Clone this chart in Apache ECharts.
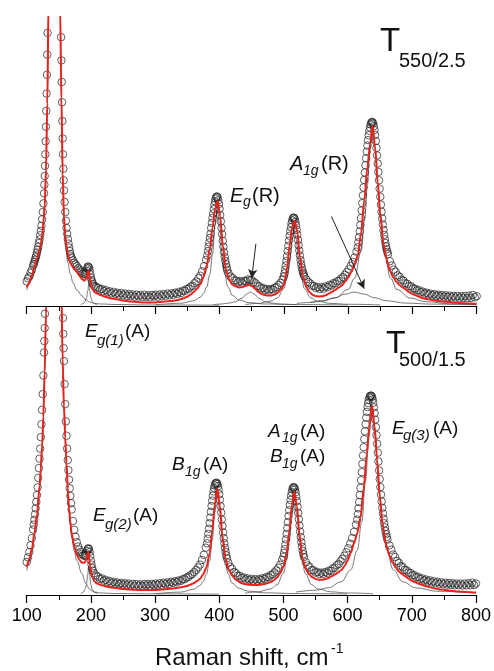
<!DOCTYPE html>
<html>
<head>
<meta charset="utf-8">
<script src="https://cdn.jsdelivr.net/npm/echarts@6/dist/echarts.min.js"></script>
<style>
html,body{margin:0;padding:0;background:#fff;}
#chart{width:494px;height:671px;}
</style>
</head>
<body>
<div id="chart"></div>
<script>
// ---------- fitted curves (grid of Raman shifts, cm-1) ----------
const shift = [100,104,108,112,116,120,122,124,126,128,130,132,134,136,138,140,142,144,146,148,150,152,154,156,158,160,162,164,166,168,170,
174,178,182,186,190,
193,196,199,202,206,210,
215,220,225,230,235,240,245,250,255,260,265,270,275,280,285,290,295,300,305,310,315,320,325,330,335,340,345,350,355,360,365,370,375,380,385,
389,393,397,401,405,
410,415,420,425,430,435,440,445,450,455,460,465,470,475,480,485,490,495,500,505,
509,513,517,521,
525,530,535,540,545,550,555,560,565,570,575,580,585,590,595,600,605,610,615,620,625,630,
634,638,642,646,
650,655,660,665,670,675,680,685,690,695,700,705,710,715,720,725,730,735,740,745,750,755,760,765,770,775,780,785,790,795,800];

// T550/2.5 fitted sum (red)
const fitTop = [6.4,8,10.5,13.5,16.5,19.5,21.5,24.5,29,35,47,70,105,140,170,195,205,205,195,170,140,103,72,46,31,24.5,20.5,18,16,14.8,14,
12.8,11.8,10.5,9.3,8.8,
9.6,12.2,9,5.8,4.8,4.3,
3.8,3.4,3.0,2.7,2.5,2.3,2.1,1.9,1.75,1.6,1.5,1.4,1.3,1.25,1.2,1.15,1.2,1.25,1.35,1.45,1.55,1.65,1.75,1.9,2.1,2.4,2.8,3.3,4.0,4.9,6.0,7.5,10,14,20,
27,33.5,36.3,31,21,
12.5,9,7.4,6.8,6.4,6.5,6.9,7.3,7.0,6.0,4.9,4.2,3.8,3.6,3.6,3.9,4.5,5.6,7.2,13,
21,27.5,29.5,25.5,
17,10,6.5,4.8,3.8,3.4,3.3,3.4,3.7,4.3,4.9,5.6,6.3,7.1,8.3,9.8,11.8,14.5,17.5,25,36.5,48,
56,62.5,55,43,
32,21.5,16,12.2,10,8.4,7.3,6.4,5.6,4.8,4.2,3.7,3.2,2.8,2.5,2.3,2.1,1.9,1.75,1.6,1.5,1.4,1.3,1.2,1.1,1.0,0.95,0.9,0.85,0.8,0.75];

// T500/1.5 fitted sum (red)
const fitBot = [9.7,12.5,16,21.5,28,38,44,52,62,78,98,120,150,180,200,220,230,230,220,200,170,140,105,82,66,55,46,37,30,25.5,21.5,
17,14,12.3,11.3,11.2,
12.4,15,10,6.2,4.6,4,
3.5,3.2,2.9,2.7,2.5,2.4,2.2,2.1,2.0,1.9,1.85,1.8,1.75,1.7,1.7,1.7,1.7,1.75,1.8,1.9,2.0,2.1,2.2,2.35,2.5,2.7,2.9,3.2,3.6,4.1,4.8,5.6,7.2,9.6,14.5,
22,31.5,37,31,20.5,
12.5,8.8,6.8,5.5,4.7,4.1,3.8,3.6,3.5,3.5,3.5,3.6,3.8,4.1,4.5,5.1,6.1,7.6,9.9,14.5,
22,31,36,31,
21,12.5,9,7.2,6.2,5.6,5.3,5.3,5.5,5.9,6.5,7.1,7.8,8.7,10,12,14.8,18,21.5,27,37,49,
59,66,59,47,
34.5,23.5,17.5,13.8,11.3,9.6,8.2,7.3,6.5,5.7,5.0,4.5,4.0,3.6,3.2,2.9,2.6,2.35,2.1,1.95,1.8,1.65,1.5,1.4,1.25,1.2,1.1,1.05,0.95,0.9,0.85];

// ---------- measured spectra (open circles) ----------
const obsShift = [100,102,104,106,108,110,
111,112,113,114,115,116,117,118,119,120,121,122,123,124,125,126,127,
127.5,128,128.5,129,129.5,130,130.5,131,131.5,132,132.5,133,133.5,134,134.5,135,
137,140,143,146,149,
150,150.5,151,151.5,152,152.5,153,153.5,154,154.5,155,155.5,156,156.5,157,157.5,158,
159,160,161,162,163,164,165,166,167,168,169,170,
172,174,176,178,180,182,184,186,188,190,
191,192,193,194,195,196,197,198,199,200,201,202,203,
205,208,211,214,217,220,223,226,229,232,235,238,241,244,247,250,253,256,259,262,265,268,271,274,277,280,283,286,289,292,295,298,301,304,307,310,313,316,319,322,325,328,331,334,337,340,343,346,349,352,355,358,361,364,367,370,373,376,379,
381,382,383,384,385,386,387,388,389,390,391,392,393,394,395,396,397,398,399,400,401,402,403,404,405,406,407,408,409,410,411,412,
414,417,420,423,426,429,432,435,438,441,444,447,450,453,456,459,462,465,468,471,474,477,480,483,486,489,492,495,498,
500,501,502,503,504,505,506,507,508,509,510,511,512,513,514,515,516,517,518,519,520,521,522,523,524,525,526,527,528,529,530,531,532,
535,538,541,544,547,550,553,556,559,562,565,568,571,574,577,580,583,586,589,592,595,598,601,604,607,610,613,
615,616,617,618,619,620,621,622,623,624,625,626,627,628,629,630,631,632,633,634,635,636,637,638,639,640,641,642,643,644,645,646,647,648,649,650,651,652,653,654,655,656,657,658,659,660,661,662,
665,668,671,674,677,680,683,686,689,692,695,698,701,704,707,710,713,716,719,722,725,728,731,734,737,740,743,746,749,752,755,758,761,764,767,770,773,776,779,782,785,788,791,794,797,800];

const obsTop = [8.5,9.6,10.2,11.5,12.5,14,
14.5,15.3,16,16.8,17.5,18.5,19.5,20.5,21.8,23,24.5,26,27.8,30,32.5,35.5,39,
42,45,48.5,52.5,57,62,67.5,73.5,80,87,94.5,102,110,118,127,136,
175,205,212,205,170,
155,146,137,128,119,110,101,93,85,77.5,70.5,64,58,52.5,47.5,43.5,40,
36,32.5,29.5,27,25,23.2,21.6,20.2,19,18,17.2,16.5,
15.8,15,14.4,13.8,13.1,12.6,12,11.6,11.2,11,
11.2,11.6,12.2,13,13.6,13.6,13.2,12.3,11,9.8,8.9,8.2,7.6,
7.0,6.6,6.3,5.7,5.9,5.2,5.5,4.8,5.1,4.4,4.9,4.2,4.6,3.9,4.5,3.7,4.3,3.5,4.2,3.4,4.0,3.2,3.9,3.3,3.8,3.1,3.9,3.2,3.7,3.0,3.8,3.3,3.9,3.2,4.0,3.4,4.1,3.5,4.3,3.7,4.4,3.9,4.6,4.2,4.9,4.5,5.3,5.2,5.9,6.0,6.7,7.0,7.9,8.5,9.6,10.5,12,13.8,16,
17.5,19,20.5,22,23.5,25,27,28.8,30.5,32,33.5,35,36.2,37.2,37.8,37.9,37.5,36.6,35.3,33.6,31.5,29.3,27,24.8,22.5,20.5,18.6,17,15.6,14.4,13.4,12.5,
11.3,10.2,9.7,8.9,8.8,8.2,8.6,8.1,8.7,8.6,9.2,8.9,9.0,8.3,7.9,7.0,6.8,6.1,6.2,5.6,5.9,5.4,5.9,5.7,6.3,6.6,7.3,8.0,9.2,
10.2,11.3,12.6,14,15.6,17.2,19,20.8,22.6,24.3,25.9,27.3,28.6,29.6,30.3,30.6,30.5,30,29.1,27.9,26.4,24.7,22.9,21,19.2,17.5,15.9,14.5,13.3,12.3,11.5,10.8,10.2,
9.2,8.3,7.8,7.0,6.9,6.2,6.6,5.9,6.5,6.0,6.8,6.5,7.3,7.1,7.9,7.8,8.6,8.7,9.5,10.0,10.8,11.7,12.7,13.9,15.2,16.8,18.8,
20.3,22,23.8,25.8,28,30.4,33,35.6,38.3,41,43.6,46.2,48.7,51.1,53.4,55.5,57.4,59.1,60.6,61.8,62.8,63.4,63.7,63.6,63.1,62.2,60.9,59.2,57.1,54.7,52.1,49.3,46.4,43.5,40.6,37.8,35.1,32.6,30.3,28.2,26.3,24.6,23.1,21.8,20.6,19.6,18.7,17.9,
15.5,14,12.6,11.8,10.6,10.1,9.1,8.8,7.9,7.7,6.9,6.8,6.1,6.0,5.4,5.5,4.8,5.0,4.3,4.6,4.0,4.3,3.7,4.1,3.5,3.9,3.3,3.8,3.2,3.7,3.1,3.6,3.0,3.5,2.9,3.5,2.8,3.4,2.8,3.5,2.7,3.6,2.8,3.8,3.0,3.4];

const obsBot = [11.5,13.1,15,17.3,19.8,22.8,
24.5,26.2,28.1,30.2,32.4,34.8,37.5,40.8,44.2,47.5,51,55,59.5,64.5,70,76.5,84.5,
88.5,93,98,103,109,115,121.5,128,135,142,150,158,166,174,182,190,
215,235,245,235,200,
190,182,174,166,158,150,142,135,128,121,114.5,108,102,96.5,91,86,81.5,
73.5,66.5,60.5,55.5,51,47,43.5,40.2,37.2,34.5,32,29.8,
25.8,22.7,20.3,18.4,16.9,15.8,15,14.3,13.9,13.7,
13.6,13.9,14.5,15.3,16,16.3,16,15,13.6,12,10.6,9.4,8.5,
7.6,6.8,6.4,5.6,5.8,5.0,5.3,4.6,4.9,4.2,4.6,4.0,4.4,3.8,4.2,3.6,4.1,3.4,4.0,3.3,3.9,3.2,3.8,3.2,3.7,3.1,3.8,3.3,3.8,3.2,3.9,3.4,4.0,3.5,4.1,3.6,4.3,3.8,4.4,3.9,4.6,4.2,4.8,4.5,5.1,4.9,5.5,5.5,6.1,6.3,6.9,7.3,8.0,8.7,9.6,10.6,12.2,14,16.5,
18,19.6,21.3,23.1,25,27,29,31,32.9,34.6,36.1,37.3,38.2,38.8,39.1,39.1,38.7,37.9,36.7,35.1,33.2,31,28.7,26.3,24,21.8,19.8,18,16.4,15,13.8,12.8,
11.3,9.9,9.1,8.0,7.6,6.7,6.7,5.9,6.1,5.4,5.8,5.2,5.6,5.0,5.5,5.0,5.6,5.2,5.9,5.6,6.3,6.2,6.9,7.2,7.9,8.6,9.5,10.6,12.2,
13.3,14.6,16,17.6,19.4,21.3,23.3,25.4,27.5,29.5,31.4,33.1,34.6,35.8,36.8,37.4,37.6,37.4,36.8,35.8,34.4,32.7,30.7,28.6,26.4,24.2,22.1,20.2,18.4,16.8,15.4,14.2,13.2,
11.4,10.3,9.7,8.7,8.6,7.8,8.0,7.3,7.8,7.3,8.0,7.7,8.5,8.4,9.3,9.5,10.4,10.8,11.8,12.6,13.7,14.9,16.3,17.9,19.8,22,24.5,
26.3,28.2,30.2,32.4,34.8,37.3,40,42.8,45.7,48.6,51.5,54.3,57,59.5,61.8,63.8,65.5,66.9,68,68.8,69.3,69.5,69.4,69,68.2,67,65.4,63.4,61.1,58.5,55.7,52.7,49.6,46.5,43.4,40.4,37.6,35,32.6,30.4,28.4,26.6,25,23.6,22.3,21.2,20.2,19.3,
17.3,15.8,14.1,13.2,11.8,11.2,10.1,9.7,8.8,8.6,7.8,7.7,6.9,6.9,6.2,6.3,5.6,5.8,5.1,5.4,4.7,5.1,4.4,4.8,4.1,4.6,3.9,4.4,3.7,4.3,3.6,4.2,3.5,4.1,3.4,4.0,3.4,4.0,3.3,4.0,3.3,4.1,3.4,4.3,3.5,4.0];

// ---------- fitted component bands [shift, intensity] ----------
const cTop143 = [[100,5.5],[108,9.5],[116,15],[120,18],[124,23],[128,33.5],[130,45.5],[132,68.5],[134,103],[136,138],[140,193],[143,203],[146,193],[150,138],[152,101],[154,70],[156,44],[158,29],[160,22],[164,15],[168,11],[172,8],[178,5.5],[186,3.5],[192,2.2],[198,1.4],[205,0.9],[215,0.7],[240,0.5],[300,0.35],[400,0.3]];
const cTop197 = [[184,0.4],[188,0.8],[191,1.6],[193,2.8],[195,5.2],[196.5,7.6],[198,5.2],[200,2.8],[202,1.6],[205,0.8],[210,0.4]];
const cTop397 = [[300,0.4],[340,0.95],[360,1.8],[370,3.05],[375,4.3],[380,6.6],[385,11],[389,17.9],[393,28],[396.5,33.3],[400,28],[404,17.9],[408,11],[413,6.6],[420,3.7],[430,2.1],[445,1.2],[470,0.7],[520,0.5],[600,0.35]];
const cTop447 = [[390,0.45],[400,0.65],[415,1.0],[425,1.5],[435,2.7],[442,4.1],[448,4.8],[454,4.1],[461,2.7],[471,1.5],[481,1.0],[496,0.65],[520,0.45]];
const cTop516 = [[440,0.5],[460,0.9],[480,1.7],[490,2.8],[500,6.0],[505,10],[509,15.8],[513,23.4],[516,26.3],[519,23.4],[523,15.8],[527,10],[532,6],[542,2.8],[552,1.7],[572,0.9],[600,0.6],[650,0.4]];
const cTop610 = [[520,0.9],[540,1.2],[560,1.8],[580,2.9],[595,4.1],[610,4.8],[625,4.1],[640,2.9],[660,1.8],[690,1.0],[730,0.65],[800,0.45]];
const cTop638 = [[540,1.2],[560,1.7],[580,2.8],[600,5.7],[610,9.6],[620,18.8],[626,30.3],[630,42],[634,54.3],[638,60.3],[642,54.3],[646,42],[650,30.3],[656,18.8],[666,9.6],[676,5.7],[696,2.8],[720,1.5],[760,0.75],[800,0.5]];

const cBot143 = [[100,8.5],[104,11.5],[108,15],[112,20.5],[116,27],[120,37],[124,51],[128,77],[130,97],[132,119],[136,178],[143,230],[150,168],[154,104],[158,65],[162,45],[166,29],[170,20.5],[174,15.5],[178,12],[186,7.5],[192,4],[198,2],[205,1.1],[215,0.7],[240,0.5],[300,0.4],[400,0.3]];
const cBot197 = [[184,0.4],[188,0.9],[191,2],[193,3.6],[195,7],[196.5,10],[198,7],[200,3.6],[202,2],[205,0.9],[210,0.4]];
const cBot397 = [[300,0.45],[340,1.0],[360,2.0],[370,3.3],[375,4.7],[380,7.3],[385,12],[389,18.9],[393,28.8],[397,34.8],[401,28.8],[405,18.9],[409,12],[414,7.3],[420,4.2],[430,2.4],[445,1.35],[470,0.75],[520,0.5],[600,0.35]];
const cBot517 = [[440,0.6],[460,1.1],[480,2.1],[490,3.6],[500,7.5],[505,12.2],[509,18.7],[513,27.8],[517,33.3],[521,27.8],[525,18.7],[529,12.2],[534,7.5],[544,3.6],[554,2.1],[574,1.1],[600,0.7],[640,0.45]];
const cBot638 = [[520,1.05],[550,1.65],[570,2.5],[590,4.6],[605,8.8],[615,15.6],[622,25.4],[628,39.9],[633,55.2],[638,63.3],[643,55.2],[648,39.9],[654,25.4],[661,15.6],[671,8.8],[686,4.6],[706,2.5],[740,1.3],[800,0.7]];

// arrows in the top panel (data coords): [from, to]
const arrowEgR = [[456.5,21.5],[450,9.6]];
const arrowA1gR = [[574,31],[625,6]];

const FONT = '"Liberation Sans", Arial, Helvetica, sans-serif';
const chart = echarts.init(document.getElementById('chart'), null, {renderer:'canvas'});

function pairs(xs, ys){ return xs.map((x,i)=>[x, ys[i]]); }

function compSeries(data, g){
  return {type:'line', xAxisIndex:g, yAxisIndex:g, data:data, showSymbol:false, symbol:'none',
    smooth:0.4, smoothMonotone:'x', lineStyle:{color:'#555', width:0.8}, z:1, silent:true, animation:false};
}
function obsSeries(ys, g){
  return {type:'scatter', xAxisIndex:g, yAxisIndex:g, data:pairs(obsShift, ys), symbol:'circle', symbolSize:7.5,
    itemStyle:{color:'rgba(0,0,0,0)', borderColor:'#222', borderWidth:0.9}, z:2, silent:true, animation:false, large:false};
}
function fitSeries(ys, g, extra){
  const s = {type:'line', xAxisIndex:g, yAxisIndex:g, data:pairs(shift, ys), showSymbol:false, symbol:'none',
    smooth:0.3, smoothMonotone:'x', lineStyle:{color:'#e8231b', width:2}, z:3, silent:true, animation:false};
  return Object.assign(s, extra||{});
}

// text pieces: [text, x, baseline, size, italic]
const pieces = [
  ['T',380,53,33,false],['550/2.5',399,68,20,false],
  ['T',386,355,32,false],['500/1.5',399,367,20,false],
  ['E',230,203,20,true],['g',243,207,14,true],['(R)',252,203,20,false],
  ['A',290,171,20,true],['1g',303,176,14,true],['(R)',321,171,20,false],
  ['E',85,338,19,true],['g(1)',97,346,15,true],['(A)',125,338,19,false],
  ['E',93,522,19,true],['g(2)',105,530,15,true],['(A)',133,522,19,false],
  ['B',172,471,19,true],['1g',185,477,14,true],['(A)',203,471,19,false],
  ['A',268,438,19,true],['1g',282,443,14,true],['(A)',300,438,19,false],
  ['B',270,463.5,19,true],['1g',282,469,14,true],['(A)',300,463.5,19,false],
  ['E',392,435,19,true],['g(3)',403,441,15,true],['(A)',433,435,19,false],
  ['Raman shift, cm',155,667,24,false],['-1',331,654,14,false]
];
const graphics = pieces.map(p=>({
  type:'text', x:p[1], y:p[2]-0.35*p[3], silent:true,
  style:{text:p[0], font:(p[4]?'italic ':'')+p[3]+'px '+FONT, fill:'#111',
    textAlign:'left', textVerticalAlign:'middle', align:'left', verticalAlign:'middle'}
}));

function xAxisCfg(g, showLabels){
  return {type:'value', gridIndex:g, min:100, max:800, interval:100,
    axisLine:{show:true, onZero:false, lineStyle:{color:'#000', width:1.2}},
    axisTick:{show:true, inside:false, length:8, lineStyle:{color:'#000', width:1.2}},
    minorTick:{show:true, splitNumber:2, length:5, lineStyle:{color:'#000', width:1}},
    splitLine:{show:false}, minorSplitLine:{show:false},
    axisLabel:{show:showLabels, fontSize:18, color:'#000', margin:12, fontFamily:FONT}
  };
}
function yAxisCfg(g){
  return {type:'value', gridIndex:g, min:0, max:100, show:false, splitLine:{show:false}};
}

const option = {
  backgroundColor:'#fff',
  animation:false,
  grid:[
    {left:26.7, right:17.3, top:17, height:289},
    {left:26.7, right:17.3, top:308, height:287}
  ],
  xAxis:[xAxisCfg(0,false), xAxisCfg(1,true)],
  yAxis:[yAxisCfg(0), yAxisCfg(1)],
  graphic: graphics,
  series:[
    compSeries(cTop143,0), compSeries(cTop197,0), compSeries(cTop397,0), compSeries(cTop447,0),
    compSeries(cTop516,0), compSeries(cTop610,0), compSeries(cTop638,0),
    obsSeries(obsTop,0),
    fitSeries(fitTop,0,{markLine:{silent:true, symbol:['none','arrow'], symbolSize:[7,9], precision:3,
      lineStyle:{color:'#222', width:1, type:'solid'}, label:{show:false}, animation:false,
      data:[
        [{coord:arrowEgR[0]},{coord:arrowEgR[1]}],
        [{coord:arrowA1gR[0]},{coord:arrowA1gR[1]}]
      ]}}),
    compSeries(cBot143,1), compSeries(cBot197,1), compSeries(cBot397,1), compSeries(cBot517,1), compSeries(cBot638,1),
    obsSeries(obsBot,1),
    fitSeries(fitBot,1)
  ]
};
chart.setOption(option);
</script>
</body>
</html>
